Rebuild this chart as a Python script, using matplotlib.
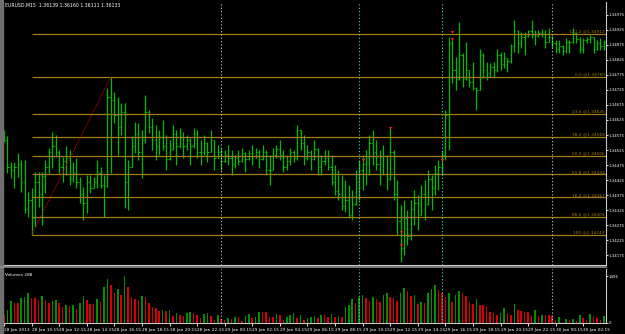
import numpy as np
import pandas as pd
import matplotlib
matplotlib.use('Agg')
import matplotlib.pyplot as plt

# EURUSD M15 bars, prices as points above 1.34000
BASE = 1.34
times = pd.date_range('2013-01-28 08:15', periods=175, freq='15min')

high = [
    592, 572, 485, 485, 515, 492, 492, 385, 398, 452,
    452, 452, 492, 532, 585, 575, 525, 502, 538, 525,
    485, 498, 435, 402, 442, 442, 435, 492, 468, 442,
    732, 769, 718, 702, 682, 682, 492, 572, 618, 615,
    592, 708, 658, 632, 608, 592, 625, 575, 558, 608,
    592, 598, 585, 575, 565, 598, 592, 558, 575, 552,
    592, 558, 542, 532, 525, 542, 525, 508, 525, 532,
    518, 525, 542, 532, 525, 542, 525, 508, 532, 542,
    558, 525, 508, 532, 525, 608, 592, 575, 542, 525,
    558, 532, 508, 525, 525, 508, 475, 458, 442, 425,
    408, 392, 458, 492, 508, 525, 575, 592, 558, 525,
    542, 508, 598, 525, 425, 342, 358, 325, 358, 392,
    375, 408, 425, 458, 442, 475, 492, 525, 658, 902,
    892, 835, 952, 848, 885, 792, 818, 735, 862, 848,
    818, 815, 818, 862, 852, 852, 832, 878, 958, 925,
    918, 918, 925, 958, 925, 925, 928, 925, 932, 905,
    892, 892, 875, 898, 892, 932, 918, 902, 898, 902,
    908, 902, 892, 898, 892]
low = [
    552, 448, 432, 398, 435, 385, 315, 302, 243, 268,
    335, 275, 382, 448, 465, 502, 448, 418, 442, 408,
    418, 398, 348, 292, 315, 382, 398, 398, 398, 302,
    402, 448, 615, 508, 575, 332, 325, 468, 515, 492,
    432, 548, 582, 525, 492, 508, 525, 458, 492, 525,
    475, 532, 498, 525, 475, 532, 498, 475, 508, 485,
    518, 458, 498, 458, 485, 475, 442, 465, 475, 485,
    452, 492, 475, 498, 465, 492, 442, 408, 458, 498,
    492, 452, 458, 475, 485, 492, 525, 475, 492, 458,
    492, 442, 442, 475, 458, 408, 375, 358, 325, 318,
    298, 292, 342, 358, 392, 408, 442, 475, 458, 408,
    442, 392, 425, 358, 242, 152, 175, 208, 225, 275,
    258, 308, 292, 342, 325, 375, 392, 442, 492, 525,
    748, 725, 758, 735, 758, 735, 725, 658, 725, 765,
    758, 768, 765, 785, 792, 798, 785, 815, 852, 848,
    865, 842, 902, 898, 875, 902, 902, 865, 885, 865,
    848, 848, 842, 848, 848, 882, 882, 848, 848, 882,
    882, 848, 858, 858, 858]
opens = [
    580, 560, 470, 460, 470, 480, 420, 330, 360, 300,
    420, 380, 440, 470, 520, 540, 520, 470, 490, 500,
    430, 450, 420, 380, 350, 420, 400, 420, 450, 410,
    405, 700, 690, 640, 600, 650, 420, 470, 540, 580,
    520, 560, 650, 600, 560, 540, 570, 540, 495, 530,
    580, 540, 570, 540, 560, 540, 580, 520, 520, 550,
    520, 557, 500, 520, 490, 510, 500, 480, 500, 490,
    515, 495, 515, 500, 520, 495, 520, 460, 460, 510,
    530, 510, 470, 490, 520, 500, 590, 550, 500, 520,
    495, 530, 470, 490, 500, 470, 420, 390, 380, 340,
    360, 310, 345, 420, 460, 480, 500, 550, 520, 480,
    445, 505, 430, 520, 380, 290, 200, 300, 240, 330,
    350, 310, 380, 345, 430, 400, 450, 470, 510, 640,
    880, 790, 760, 840, 760, 790, 750, 730, 725, 840,
    790, 780, 800, 790, 840, 810, 830, 820, 870, 920,
    880, 900, 905, 920, 910, 905, 915, 910, 885, 900,
    880, 860, 870, 855, 885, 885, 915, 895, 860, 890,
    895, 900, 860, 880, 870]
closes = [
    560, 470, 460, 470, 480, 420, 330, 360, 300, 420,
    380, 440, 470, 520, 540, 520, 470, 490, 500, 430,
    450, 420, 380, 350, 420, 400, 420, 450, 410, 405,
    700, 690, 640, 600, 650, 420, 470, 540, 580, 520,
    560, 650, 600, 560, 540, 570, 540, 495, 530, 580,
    540, 570, 540, 560, 540, 580, 520, 520, 550, 520,
    557, 500, 520, 490, 510, 500, 480, 500, 490, 515,
    495, 515, 500, 520, 495, 520, 460, 460, 510, 530,
    510, 470, 490, 520, 500, 590, 550, 500, 520, 495,
    530, 470, 490, 500, 470, 420, 390, 380, 340, 360,
    310, 345, 420, 460, 480, 500, 550, 520, 480, 445,
    505, 430, 520, 380, 290, 200, 300, 240, 330, 350,
    310, 380, 345, 430, 400, 450, 470, 510, 640, 880,
    790, 760, 840, 760, 790, 750, 730, 725, 840, 790,
    780, 800, 790, 840, 810, 830, 820, 870, 920, 880,
    900, 905, 920, 910, 905, 915, 910, 885, 900, 880,
    860, 870, 855, 885, 885, 915, 895, 860, 890, 895,
    900, 860, 880, 870, 885]
volume = [
    254, 413, 700, 636, 636, 795, 827, 954, 795, 795,
    731, 859, 731, 636, 700, 731, 636, 509, 572, 541,
    572, 445, 636, 859, 731, 604, 604, 763, 668, 1145,
    1399, 1208, 954, 1081, 890, 1496, 1145, 827, 763, 731,
    859, 827, 636, 509, 477, 382, 413, 382, 413, 223,
    318, 254, 223, 318, 350, 318, 254, 159, 286, 318,
    223, 95, 254, 127, 95, 159, 127, 191, 191, 48,
    223, 286, 159, 191, 350, 350, 350, 191, 191, 286,
    254, 95, 191, 254, 318, 159, 254, 95, 159, 191,
    223, 159, 254, 254, 191, 286, 191, 223, 191, 509,
    572, 763, 636, 827, 890, 795, 700, 827, 763, 668,
    890, 954, 827, 795, 700, 954, 1113, 1018, 859, 890,
    604, 668, 636, 954, 1081, 1208, 1049, 954, 827, 954,
    668, 890, 1018, 954, 859, 668, 604, 763, 572, 572,
    509, 350, 318, 254, 318, 477, 318, 254, 604, 413,
    382, 350, 350, 223, 413, 223, 254, 254, 254, 223,
    95, 191, 32, 127, 95, 127, 64, 254, 159, 95,
    286, 223, 159, 95, 223]

# fibonacci drawn from the low of bar 8 to the high of bar 31
fib_from, fib_to = 8, 31
fib_ratios = [-0.272, 0.0, 0.236, 0.382, 0.5, 0.618, 0.764, 0.886, 1.0]
fib_names = ['127.2', '0.0', '23.6', '38.2', '50.0', '61.8', '76.4', '88.6', '100']

# red signal arrows
sig_time = ['2013-01-29 10:15', '2013-01-29 12:15', '2013-01-29 13:00', '2013-01-29 13:00',
            '2013-01-29 16:00', '2013-01-29 16:45', '2013-01-29 16:45']
sig_pts = [492, 598, 252, 208, 492, 918, 895]

session_lines = ['2013-01-29 10:00', '2013-01-29 16:00']

title = 'EURUSD,M15  1.36139 1.36160 1.36111 1.36133'
price_ticks = [1.34975, 1.34925, 1.34875, 1.34825, 1.34775, 1.34725, 1.34675, 1.34625, 1.34575,
               1.34525, 1.34475, 1.34425, 1.34375, 1.34325, 1.34275, 1.34225, 1.34175]

hi = BASE + np.array(high) / 1e5
lo = BASE + np.array(low) / 1e5
op = BASE + np.array(opens) / 1e5
cl = BASE + np.array(closes) / 1e5
vol = np.array(volume)
n = len(hi)
x = np.arange(n)

W, H = 625, 334
BG = 'black'
GRID = '#c8c8c8'
FIB = '#a47b1a'
BAR = '#00bc00'
FS = 3.1


def rect(x0, y0, x1, y1):
    return [x0 / W, 1 - y1 / H, (x1 - x0) / W, (y1 - y0) / H]


fig = plt.figure(figsize=(6.25, 3.34), dpi=100, facecolor=BG)
ax = fig.add_axes(rect(3, 2, 606, 265), facecolor=BG)
axv = fig.add_axes(rect(3, 269, 606, 323), facecolor=BG, sharex=ax)

# price bars
ax.vlines(x, lo, hi, color=BAR, lw=0.9)
ax.hlines(op, x - 0.35, x, color=BAR, lw=0.8)
ax.hlines(cl, x, x + 0.35, color=BAR, lw=0.8)

# fibonacci
f_low, f_high = lo[fib_from], hi[fib_to]
rng = f_high - f_low
xmin, xmax = -0.3, n - 0.4
for r, name in zip(fib_ratios, fib_names):
    lvl = f_high - r * rng
    ax.hlines(lvl, fib_from, xmax, color=FIB, lw=0.9)
    ax.text(xmax - 0.3, lvl + 0.000012, f'{name} @{lvl:.5f}', color=FIB, fontsize=3.1,
            ha='right', va='bottom')
ax.plot([fib_from, fib_to], [f_low, f_high], color='#b00000', lw=0.9, ls=(0, (1, 1)))

# signals
tidx = pd.Index(times)
sx = [tidx.get_loc(pd.Timestamp(t)) for t in sig_time]
ax.scatter(sx, BASE + np.array(sig_pts) / 1e5, marker='v', s=5, color='#ff2020', zorder=5, linewidths=0)

# volumes
vcol = ['#009000' if i > 0 and vol[i] > vol[i - 1] else '#d80000' for i in range(n)]
axv.bar(x, vol, width=0.45, color=vcol)

# separators
day_idx = [i for i, t in enumerate(times) if t.hour == 0 and t.minute == 0]
sess_idx = [tidx.get_loc(pd.Timestamp(t)) for t in session_lines]
for a in (ax, axv):
    for d in day_idx:
        a.axvline(d, color=GRID, lw=0.8, ls=(0, (1, 2)))
    for d in sess_idx:
        a.axvline(d, color='#40d8d8', lw=0.8, ls=(0, (1, 2)))

ax.set_xlim(xmin, xmax)
ax.set_ylim(1.34142, 1.35018)
axv.set_ylim(0, 1496 * 54 / 47)

for a in (ax, axv):
    for s in ('left', 'top'):
        a.spines[s].set_visible(False)
    a.spines['right'].set_color(GRID)
    a.spines['bottom'].set_color(GRID)
    a.spines['right'].set_linewidth(0.8)
    a.spines['bottom'].set_linewidth(0.8)
    a.yaxis.tick_right()
    a.tick_params(axis='y', colors='white', labelcolor='white', labelsize=2.75, length=1.5, width=0.6, pad=0.6)

ax.set_yticks(price_ticks)
ax.set_yticklabels([f'{p:.5f}' for p in price_ticks])
ax.tick_params(axis='x', bottom=False, labelbottom=False)

axv.set_yticks([0, vol.max()])
axv.set_yticklabels(['0', str(vol.max())])

tick_pos = list(range(0, n, 8))
tick_lab = ['28 Jan 2013' if i == 0 else times[i].strftime('%d %b %H:%M') for i in tick_pos]
axv.set_xticks(tick_pos)
axv.set_xticklabels(tick_lab, ha='left')
axv.tick_params(axis='x', colors='white', labelcolor='white', labelsize=FS, length=2.5, width=0.6, pad=1)

axv.text(0.004, 0.93, 'Volumes 288', transform=axv.transAxes, color='white', fontsize=FS, va='top')
fig.text(5 / W, 1 - 5 / H, title, color='white', fontsize=3.3, va='center')

# frame of the terminal window
fig.patches.append(plt.Rectangle((0, 0), 2.5 / W, 1, transform=fig.transFigure, color='#707070'))
fig.lines.append(plt.Line2D([0, 606 / W], [1 - 267 / H] * 2, transform=fig.transFigure, color='#909090', lw=1.2))

fig.savefig('out.png', dpi=100, facecolor=BG)
